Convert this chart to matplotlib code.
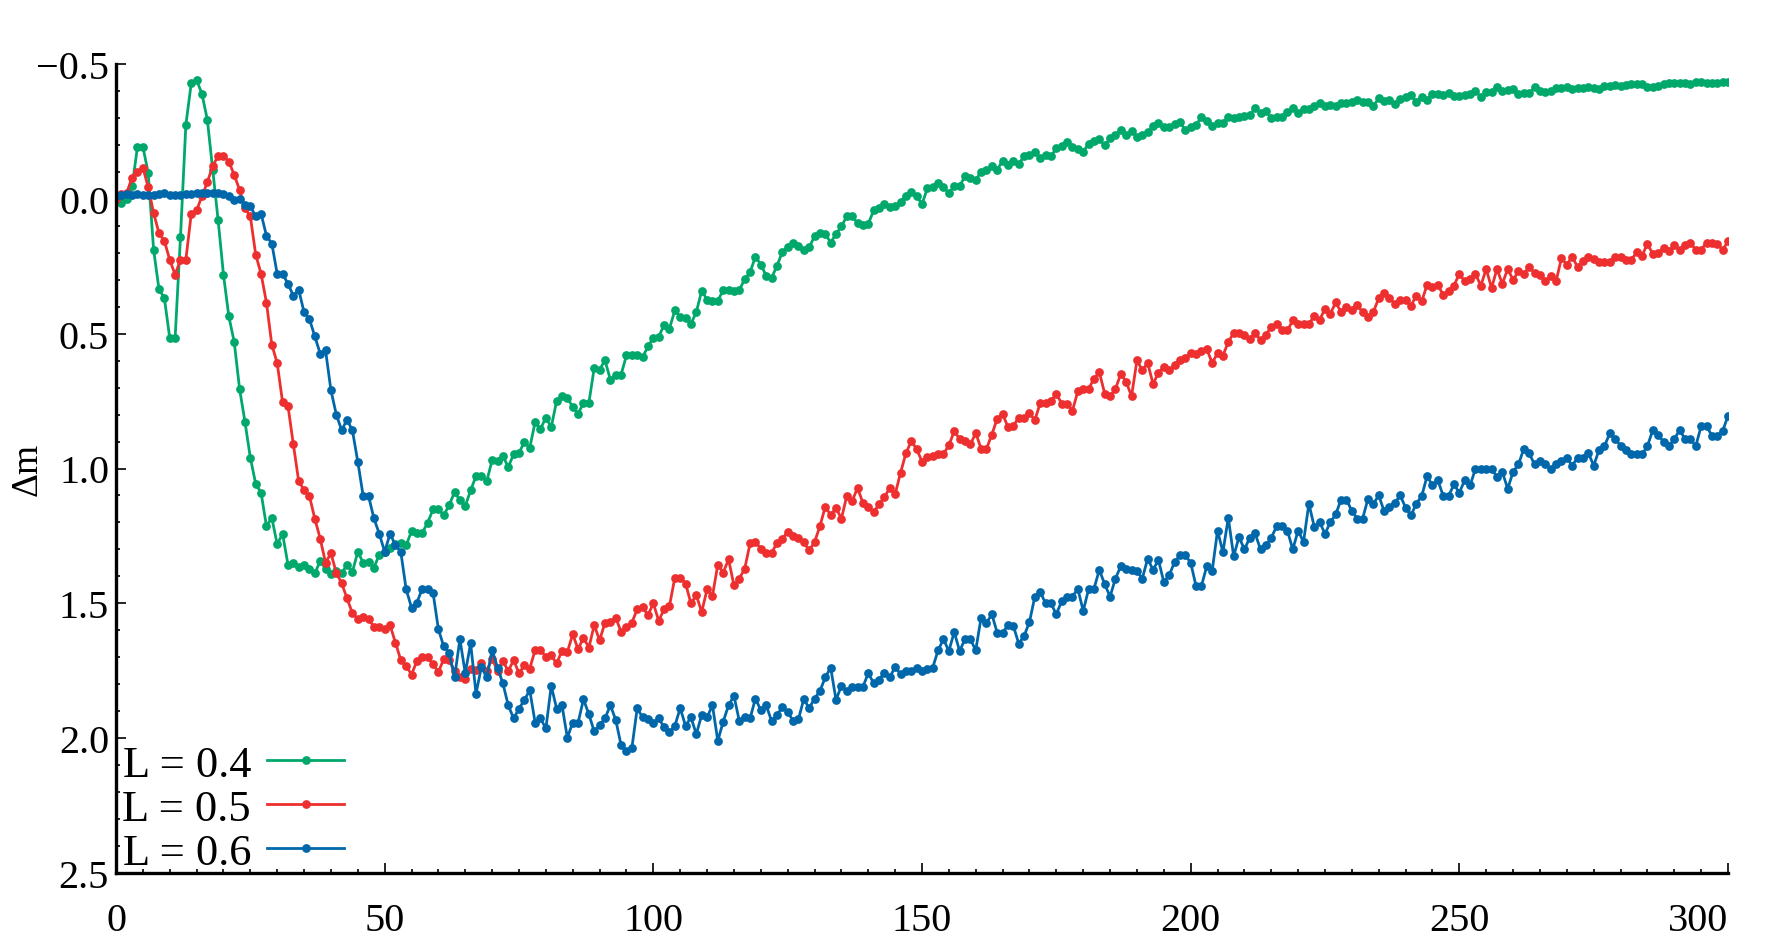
import numpy as np
import matplotlib
matplotlib.use("Agg")
import matplotlib.pyplot as plt
from matplotlib.ticker import MultipleLocator

plt.rcParams['font.family'] = ['Liberation Serif', 'DejaVu Serif']

labels = ['L = 0.4', 'L = 0.5', 'L = 0.6']
colors = ['#00A86B', '#EE2F2F', '#0068AA']

green = [
 0.0, 0.016, 0.0, -0.046, -0.194, -0.194, -0.095, 0.189, 0.335, 0.368,
 0.516, 0.516, 0.142, -0.274, -0.428, -0.441, -0.389, -0.293, -0.107, 0.078,
 0.281, 0.436, 0.531, 0.705, 0.827, 0.96, 1.057, 1.09, 1.214, 1.183,
 1.281, 1.242, 1.356, 1.35, 1.364, 1.358, 1.372, 1.389, 1.343, 1.373,
 1.393, 1.38, 1.389, 1.356, 1.383, 1.309, 1.349, 1.346, 1.368, 1.319,
 1.31, 1.294, 1.281, 1.278, 1.285, 1.232, 1.241, 1.238, 1.201, 1.152,
 1.152, 1.173, 1.136, 1.088, 1.117, 1.139, 1.081, 1.028, 1.026, 1.047,
 0.969, 0.973, 0.954, 0.994, 0.948, 0.942, 0.902, 0.923, 0.828, 0.853,
 0.812, 0.846, 0.75, 0.732, 0.738, 0.772, 0.797, 0.757, 0.757, 0.627,
 0.633, 0.599, 0.67, 0.652, 0.652, 0.58, 0.578, 0.578, 0.588, 0.547,
 0.516, 0.512, 0.467, 0.481, 0.414, 0.438, 0.442, 0.463, 0.42, 0.341,
 0.374, 0.38, 0.378, 0.339, 0.339, 0.343, 0.339, 0.297, 0.273, 0.214,
 0.244, 0.285, 0.294, 0.248, 0.199, 0.177, 0.162, 0.174, 0.191, 0.18,
 0.139, 0.127, 0.130, 0.162, 0.130, 0.102, 0.065, 0.065, 0.09, 0.096,
 0.093, 0.043, 0.035, 0.019, 0.031, 0.028, 0.01, -0.011, -0.027, -0.011,
 0.02, -0.039, -0.043, -0.06, -0.043, -0.021, -0.048, -0.048, -0.083, -0.077,
 -0.07, -0.101, -0.107, -0.122, -0.107, -0.142, -0.126, -0.142, -0.130, -0.157,
 -0.163, -0.175, -0.15, -0.163, -0.157, -0.188, -0.196, -0.209, -0.194, -0.184,
 -0.175, -0.204, -0.216, -0.221, -0.198, -0.225, -0.237, -0.254, -0.237, -0.25,
 -0.231, -0.237, -0.246, -0.27, -0.28, -0.266, -0.266, -0.278, -0.286, -0.254,
 -0.268, -0.274, -0.303, -0.29, -0.27, -0.28, -0.28, -0.305, -0.299, -0.303,
 -0.307, -0.311, -0.336, -0.317, -0.327, -0.299, -0.305, -0.305, -0.323, -0.336,
 -0.32, -0.332, -0.332, -0.344, -0.354, -0.344, -0.348, -0.344, -0.354, -0.354,
 -0.36, -0.367, -0.36, -0.36, -0.344, -0.373, -0.364, -0.367, -0.352, -0.369,
 -0.379, -0.385, -0.36, -0.379, -0.367, -0.389, -0.389, -0.385, -0.394, -0.381,
 -0.381, -0.385, -0.389, -0.401, -0.377, -0.397, -0.397, -0.414, -0.401, -0.404,
 -0.406, -0.388, -0.391, -0.391, -0.414, -0.401, -0.397, -0.401, -0.41, -0.41,
 -0.414, -0.406, -0.41, -0.41, -0.416, -0.41, -0.406, -0.419, -0.419, -0.422,
 -0.419, -0.422, -0.426, -0.426, -0.426, -0.416, -0.414, -0.419, -0.426, -0.431,
 -0.428, -0.428, -0.428, -0.426, -0.434, -0.434, -0.431, -0.431, -0.428, -0.434,
 -0.435]

red = [
 0.0, -0.019, -0.023, -0.079, -0.099, -0.116, -0.043, 0.053, 0.127, 0.156,
 0.226, 0.281, 0.226, 0.226, 0.056, 0.043, -0.01, -0.061, -0.122, -0.159,
 -0.159, -0.138, -0.089, -0.033, 0.035, 0.065, 0.207, 0.278, 0.385, 0.541,
 0.609, 0.754, 0.767, 0.91, 1.047, 1.080, 1.102, 1.186, 1.26, 1.349,
 1.315, 1.386, 1.426, 1.481, 1.537, 1.557, 1.549, 1.557, 1.588, 1.588,
 1.596, 1.580, 1.646, 1.71, 1.732, 1.764, 1.714, 1.699, 1.699, 1.726,
 1.754, 1.707, 1.710, 1.751, 1.775, 1.781, 1.742, 1.748, 1.72, 1.751,
 1.705, 1.751, 1.714, 1.751, 1.711, 1.759, 1.73, 1.742, 1.673, 1.673,
 1.698, 1.693, 1.723, 1.676, 1.680, 1.615, 1.670, 1.627, 1.664, 1.581,
 1.637, 1.572, 1.569, 1.553, 1.606, 1.588, 1.572, 1.522, 1.514, 1.544,
 1.5, 1.565, 1.522, 1.51, 1.405, 1.405, 1.427, 1.5, 1.47, 1.532,
 1.448, 1.473, 1.356, 1.386, 1.337, 1.433, 1.408, 1.372, 1.278, 1.272,
 1.297, 1.315, 1.315, 1.275, 1.26, 1.236, 1.25, 1.256, 1.273, 1.304,
 1.273, 1.214, 1.142, 1.173, 1.146, 1.186, 1.102, 1.121, 1.072, 1.127,
 1.142, 1.162, 1.133, 1.106, 1.072, 1.096, 1.016, 0.944, 0.899, 0.927,
 0.975, 0.957, 0.952, 0.948, 0.946, 0.914, 0.862, 0.89, 0.899, 0.911,
 0.868, 0.927, 0.927, 0.874, 0.815, 0.797, 0.847, 0.841, 0.812, 0.812,
 0.794, 0.821, 0.757, 0.757, 0.75, 0.723, 0.759, 0.759, 0.785, 0.714,
 0.705, 0.705, 0.668, 0.643, 0.722, 0.732, 0.705, 0.649, 0.679, 0.732,
 0.599, 0.636, 0.609, 0.686, 0.646, 0.623, 0.636, 0.618, 0.596, 0.59,
 0.572, 0.575, 0.565, 0.557, 0.609, 0.572, 0.581, 0.531, 0.497, 0.497,
 0.504, 0.52, 0.497, 0.525, 0.504, 0.475, 0.463, 0.488, 0.488, 0.451,
 0.463, 0.463, 0.463, 0.436, 0.448, 0.409, 0.426, 0.384, 0.42, 0.401,
 0.411, 0.393, 0.421, 0.438, 0.42, 0.368, 0.349, 0.368, 0.389, 0.377,
 0.377, 0.396, 0.359, 0.38, 0.319, 0.327, 0.319, 0.356, 0.343, 0.322,
 0.278, 0.306, 0.298, 0.278, 0.322, 0.26, 0.331, 0.26, 0.315, 0.26,
 0.3, 0.269, 0.278, 0.253, 0.275, 0.281, 0.306, 0.288, 0.306, 0.22,
 0.244, 0.214, 0.253, 0.232, 0.214, 0.224, 0.236, 0.236, 0.236, 0.214,
 0.214, 0.226, 0.226, 0.199, 0.211, 0.167, 0.204, 0.201, 0.183, 0.195,
 0.17, 0.189, 0.17, 0.162, 0.189, 0.189, 0.162, 0.162, 0.167, 0.189,
 0.158]

blue = [
 -0.01, -0.015, -0.019, -0.015, -0.019, -0.015, -0.015, -0.015, -0.019, -0.023,
 -0.015, -0.015, -0.015, -0.019, -0.019, -0.021, -0.021, -0.021, -0.021, -0.023,
 -0.019, -0.011, 0.006, 0.001, 0.022, 0.028, 0.065, 0.055, 0.137, 0.166,
 0.278, 0.278, 0.315, 0.359, 0.337, 0.421, 0.446, 0.51, 0.574, 0.562,
 0.71, 0.8, 0.858, 0.819, 0.859, 0.975, 1.102, 1.102, 1.185, 1.242,
 1.309, 1.242, 1.284, 1.309, 1.448, 1.516, 1.497, 1.446, 1.446, 1.46,
 1.596, 1.66, 1.683, 1.775, 1.633, 1.759, 1.648, 1.835, 1.736, 1.775,
 1.673, 1.738, 1.797, 1.878, 1.927, 1.89, 1.859, 1.822, 1.942, 1.927,
 1.964, 1.806, 1.89, 1.878, 1.998, 1.942, 1.942, 1.856, 1.911, 1.975,
 1.952, 1.927, 1.878, 1.932, 2.026, 2.049, 2.037, 1.889, 1.923, 1.93,
 1.942, 1.926, 1.96, 1.977, 1.954, 1.889, 1.954, 1.923, 1.985, 1.914,
 1.923, 1.878, 2.01, 1.939, 1.878, 1.843, 1.936, 1.923, 1.927, 1.853,
 1.896, 1.878, 1.936, 1.914, 1.886, 1.902, 1.936, 1.93, 1.855, 1.889,
 1.853, 1.825, 1.775, 1.738, 1.858, 1.806, 1.825, 1.81, 1.81, 1.81,
 1.759, 1.796, 1.784, 1.757, 1.775, 1.735, 1.763, 1.751, 1.751, 1.738,
 1.751, 1.742, 1.738, 1.674, 1.633, 1.677, 1.606, 1.677, 1.633, 1.633,
 1.674, 1.553, 1.572, 1.541, 1.609, 1.609, 1.581, 1.584, 1.649, 1.621,
 1.569, 1.475, 1.458, 1.5, 1.5, 1.541, 1.491, 1.475, 1.475, 1.446,
 1.528, 1.448, 1.446, 1.376, 1.429, 1.475, 1.408, 1.362, 1.374, 1.376,
 1.38, 1.408, 1.334, 1.376, 1.339, 1.421, 1.396, 1.347, 1.322, 1.322,
 1.349, 1.436, 1.436, 1.362, 1.38, 1.23, 1.31, 1.183, 1.325, 1.254,
 1.3, 1.257, 1.241, 1.3, 1.284, 1.257, 1.214, 1.214, 1.23, 1.3,
 1.23, 1.273, 1.13, 1.216, 1.199, 1.242, 1.199, 1.17, 1.115, 1.115,
 1.158, 1.186, 1.186, 1.112, 1.131, 1.1, 1.158, 1.142, 1.127, 1.1,
 1.145, 1.174, 1.13, 1.102, 1.028, 1.063, 1.043, 1.102, 1.102, 1.059,
 1.09, 1.043, 1.063, 1.001, 1.001, 1.001, 1.001, 1.031, 1.013, 1.075,
 1.013, 0.985, 0.927, 0.944, 0.985, 0.973, 0.985, 1.001, 0.985, 0.973,
 0.96, 0.989, 0.96, 0.96, 0.942, 0.989, 0.932, 0.917, 0.87, 0.89,
 0.915, 0.93, 0.948, 0.948, 0.948, 0.917, 0.858, 0.874, 0.902, 0.917,
 0.89, 0.858, 0.89, 0.89, 0.917, 0.843, 0.843, 0.878, 0.878, 0.862,
 0.804]

series = [green, red, blue]

W, H = 1783, 945
fig = plt.figure(figsize=(W / 100, H / 100), dpi=100)
ax = fig.add_axes([116 / W, 71 / H, 1612 / W, 809 / H])

for vals, lab, col in zip(series, labels, colors):
    xs = np.arange(len(vals))
    ax.plot(xs, vals, '-', marker='o', color=col, lw=2.0, ms=6.3,
            mew=0, label=lab)

ax.set_xlim(0, 300)
ax.set_ylim(2.5, -0.5)
ax.xaxis.set_major_locator(MultipleLocator(50))
ax.xaxis.set_minor_locator(MultipleLocator(5))
ax.yaxis.set_major_locator(MultipleLocator(0.5))
ax.yaxis.set_minor_locator(MultipleLocator(0.1))

for s in ['top', 'right']:
    ax.spines[s].set_visible(False)
for s in ['left', 'bottom']:
    ax.spines[s].set_linewidth(2.4)

ax.tick_params(which='both', direction='in', labelsize=29, width=1.2)
ax.tick_params(which='major', length=7)
ax.tick_params(which='minor', length=3)
ax.tick_params(axis='x', pad=21)
ax.tick_params(axis='y', pad=5)

ax.set_ylabel('Δm', fontsize=27)
ax.yaxis.set_label_coords(-0.044, 0.5)

leg = ax.legend(loc='lower left', bbox_to_anchor=(0.004, 0.0), frameon=False,
                fontsize=32, markerfirst=False, handlelength=1.75,
                handletextpad=0.35, labelspacing=0.09, borderaxespad=0.0,
                borderpad=0.0, numpoints=1)

fig.canvas.draw()
for t in ax.xaxis.get_major_ticks():
    if abs(t.get_loc() - 300) < 1e-6:
        t.label1.set_horizontalalignment('right')

fig.savefig('out.png', dpi=100)
